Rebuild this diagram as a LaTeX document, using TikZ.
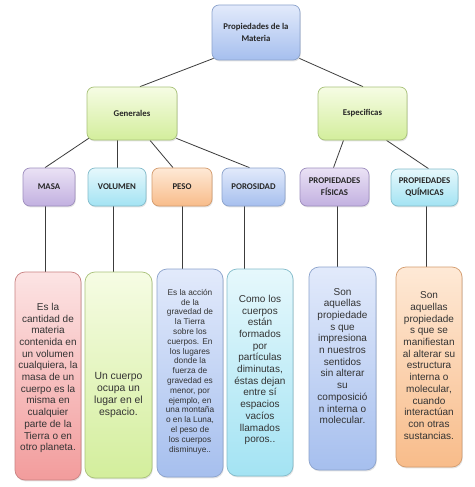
\documentclass[tikz,border=0pt]{standalone}
\usepackage{fontspec}
\setmainfont{Liberation Sans}
\newfontfamily\headfont{Carlito}
\usepackage{tikz}
\usetikzlibrary{backgrounds,calc,shadows}

\definecolor{blueTop}{HTML}{E2EAFB}
\definecolor{blueBot}{HTML}{A6BFEE}
\definecolor{blueLine}{HTML}{8CA3CC}
\definecolor{greenTop}{HTML}{F6FCE4}
\definecolor{greenBot}{HTML}{D3EE9C}
\definecolor{greenLine}{HTML}{A9C27A}
\definecolor{violetTop}{HTML}{EAE2F5}
\definecolor{violetBot}{HTML}{C2B0E0}
\definecolor{violetLine}{HTML}{9E8EBE}
\definecolor{cyanTop}{HTML}{E6F8FC}
\definecolor{cyanBot}{HTML}{A3E3F3}
\definecolor{cyanLine}{HTML}{83BCCB}
\definecolor{orangeTop}{HTML}{FEE9D6}
\definecolor{orangeBot}{HTML}{F8BC8A}
\definecolor{orangeLine}{HTML}{D49C6E}
\definecolor{redTop}{HTML}{FCE4E4}
\definecolor{redBot}{HTML}{F29C9C}
\definecolor{redLine}{HTML}{C98282}
\definecolor{wire}{HTML}{3C3C3C}

\begin{document}
\begin{tikzpicture}[
  x=1pt,y=-1pt,
  box/.style={draw=#1Line,top color=#1Top,bottom color=#1Bot,
    rounded corners=7pt,line width=0.7pt,inner sep=2pt,
    drop shadow={opacity=0.22,shadow xshift=0.8pt,shadow yshift=-1.4pt}},
  head/.style={box=#1,align=center,text=black!85,
    font=\headfont\bfseries\fontsize{8.8}{12}\selectfont},
  card/.style={box=#1,rounded corners=10pt},
  desc/.style={align=center,text=black!80,font=\fontsize{10}{11.7}\selectfont},
  link/.style={draw=wire,line width=0.8pt}
]
  \useasboundingbox (0,0) rectangle (474,487);

  % top of the map
  \node[head=blue,minimum width=88pt,minimum height=55pt] (mat) at (256,32.5)
    {Propiedades de la\\Materia};
  \node[head=green,minimum width=90pt,minimum height=53pt] (gen) at (132,113.5) {Generales};
  \node[head=green,minimum width=89pt,minimum height=53pt] (esp) at (362.5,113.5) {Especificas};

  % properties
  \node[head=violet,minimum width=52pt,minimum height=38pt] (masa) at (49,187) {MASA};
  \node[head=cyan,minimum width=58pt,minimum height=38pt] (vol) at (117,187) {VOLUMEN};
  \node[head=orange,minimum width=60pt,minimum height=38pt] (peso) at (182,187) {PESO};
  \node[head=blue,minimum width=63pt,minimum height=38pt] (poro) at (253.5,187) {POROSIDAD};
  \node[head=violet,minimum width=69pt,minimum height=38pt] (fis) at (334.5,187)
    {PROPIEDADES\\FÍSICAS};
  \node[head=cyan,minimum width=67pt,minimum height=37pt] (qui) at (424.5,187.5)
    {PROPIEDADES\\QUÍMICAS};

  % definitions
  \node[card=red,minimum width=66pt,minimum height=208pt] (masaT) at (48,376) {};
  \node[card=green,minimum width=67pt,minimum height=206pt] (volT) at (118.5,375) {};
  \node[card=blue,minimum width=66pt,minimum height=208pt] (pesoT) at (190,373) {};
  \node[card=cyan,minimum width=66pt,minimum height=207pt] (poroT) at (260,372.5) {};
  \node[card=blue,minimum width=67pt,minimum height=203pt] (fisT) at (342.5,368.5) {};
  \node[card=orange,minimum width=66pt,minimum height=200pt] (quiT) at (429,367) {};

  \node[desc] (masaTxt) at (48,378) {Es la\\cantidad de\\materia\\contenida en\\un volumen\\
    cualquiera, la\\masa de un\\cuerpo es la\\misma en\\cualquier\\parte de la\\
    Tierra o en\\otro planeta.};
  \node[desc,font=\fontsize{10.4}{11.8}\selectfont] (volTxt) at (118.5,395)
    {Un cuerpo\\ocupa un\\lugar en el\\espacio.};
  \node[desc,font=\fontsize{8.3}{9.8}\selectfont] (pesoTxt) at (190,371.5)
    {Es la acción\\de la\\gravedad de\\la Tierra\\sobre los\\cuerpos. En\\los lugares\\
    donde la\\fuerza de\\gravedad es\\menor, por\\ejemplo, en\\una montaña\\
    o en la Luna,\\el peso de\\los cuerpos\\disminuye..};
  \node[desc] (poroTxt) at (260,370) {Como los\\cuerpos\\están\\formados\\por\\
    partículas\\diminutas,\\éstas dejan\\entre sí\\espacios\\vacíos\\llamados\\poros..};
  \node[desc] (fisTxt) at (342.5,356) {Son\\aquellas\\propiedade\\s que\\impresiona\\
    n nuestros\\sentidos\\sin alterar\\su\\composició\\n interna o\\molecular.};
  \node[desc] (quiTxt) at (429,365.5) {Son\\aquellas\\propiedade\\s que se\\
    manifiestan\\al alterar su\\estructura\\interna o\\molecular,\\cuando\\
    interactúan\\con otras\\sustancias.};

  \begin{scope}[on background layer]
    \fill[white] (0,0) rectangle (474,487);
    \draw[link] ([xshift=2pt,yshift=2pt]mat.south west) -- ([xshift=8pt]gen.north);
    \draw[link] ([xshift=-1pt,yshift=2pt]mat.south east) -- ([xshift=0.5pt]esp.north);
    \draw[link] ([xshift=2pt,yshift=2pt]gen.south west) -- ([xshift=-4pt]masa.north);
    \draw[link] (gen.south -| vol.north) -- (vol.north);
    \draw[link] ([xshift=18pt]gen.south) -- ([xshift=-9pt]peso.north);
    \draw[link] ([xshift=-1pt,yshift=2pt]gen.south east) -- ([xshift=-4pt]poro.north);
    \draw[link] ([xshift=-19pt]esp.south) -- ([xshift=-1pt]fis.north);
    \draw[link] ([xshift=24pt]esp.south) -- ([xshift=4pt]qui.north);
    \draw[link] ([xshift=-4pt]masa.south) -- ([xshift=-4pt]masa.south |- masaT.north);
    \draw[link] ([xshift=-4pt]vol.south) -- ([xshift=-4pt]vol.south |- volT.north);
    \draw[link] (peso.south) -- (peso.south |- pesoT.north);
    \draw[link] ([xshift=-9pt]poro.south) -- ([xshift=-9pt]poro.south |- poroT.north);
    \draw[link] ([xshift=2.5pt]fis.south) -- ([xshift=2.5pt]fis.south |- fisT.north);
    \draw[link] ([xshift=1.5pt]qui.south) -- ([xshift=1.5pt]qui.south |- quiT.north);
  \end{scope}
\end{tikzpicture}
\end{document}
